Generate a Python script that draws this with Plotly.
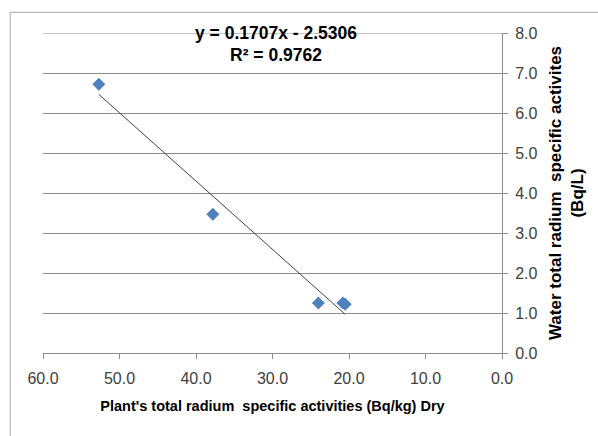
import plotly.graph_objects as go

# Data
plant_x = [52.7, 37.8, 24.0, 20.8, 20.5]
water_y = [6.72, 3.47, 1.25, 1.25, 1.22]
slope = 0.1707
intercept = -2.5306
x_ticks = [60, 50, 40, 30, 20, 10, 0]
y_ticks = [0, 1, 2, 3, 4, 5, 6, 7, 8]

FONT = "Liberation Sans, Arial, sans-serif"
GRID = "#8c8c8c"

tx = [max(plant_x), min(plant_x)]
ty = [slope * v + intercept for v in tx]

fig = go.Figure()
fig.add_trace(go.Scatter(x=tx, y=ty, mode="lines",
                         line=dict(color="#404040", width=1), hoverinfo="skip"))
fig.add_trace(go.Scatter(x=plant_x, y=water_y, mode="markers",
                         marker=dict(symbol="diamond", size=10, color="#4F81BD",
                                     line=dict(width=0))))

fig.update_layout(
    width=598, height=436,
    margin=dict(l=43, r=96, t=33, b=83),
    plot_bgcolor="white", paper_bgcolor="white",
    showlegend=False,
    font=dict(family=FONT, color="#262626"),
    xaxis=dict(range=[60, 0], tickvals=x_ticks, tickformat=".1f",
               showgrid=False, zeroline=False,
               showline=True, linecolor=GRID, linewidth=1,
               ticks="outside", ticklen=5, tickcolor=GRID,
               ticklabelstandoff=6,
               tickfont=dict(size=16, color="#404040"),
               title=dict(text="<b>Plant's total radium  specific activities (Bq/kg) Dry</b>",
                          font=dict(size=14.5, color="#000000"), standoff=14)),
    yaxis=dict(range=[0, 8], tickvals=y_ticks, tickformat=".1f", side="right",
               showgrid=True, gridcolor=GRID, gridwidth=1, zeroline=False,
               showline=True, linecolor=GRID, linewidth=1,
               ticks="outside", ticklen=5, tickcolor=GRID,
               ticklabelstandoff=4,
               tickfont=dict(size=16, color="#404040"),
               title=dict(text="<b>Water total radium  specific activites<br>(Bq/L)</b>",
                          font=dict(size=17, color="#000000"), standoff=12)),
    shapes=[dict(type="rect", xref="paper", yref="paper",
                 x0=-0.0715, x1=1.3, y0=-0.4, y1=1.0647,
                 line=dict(color="#a6a6a6", width=1), layer="below"),
            dict(type="line", xref="paper", yref="y", x0=0, x1=1,
                 y0=y_ticks[-1], y1=y_ticks[-1],
                 line=dict(color=GRID, width=1), layer="below")],
    annotations=[
        dict(text="<b>y = 0.1707x - 2.5306</b>", xref="paper", yref="paper",
             x=0.507, y=1.0, showarrow=False, xanchor="center", yanchor="middle",
             font=dict(size=17.5, color="#000000")),
        dict(text="<b>R² = 0.9762</b>", xref="paper", yref="paper",
             x=0.507, y=0.93, showarrow=False, xanchor="center", yanchor="middle",
             font=dict(size=17.5, color="#000000")),
    ],
)

fig.write_html("out.html")
